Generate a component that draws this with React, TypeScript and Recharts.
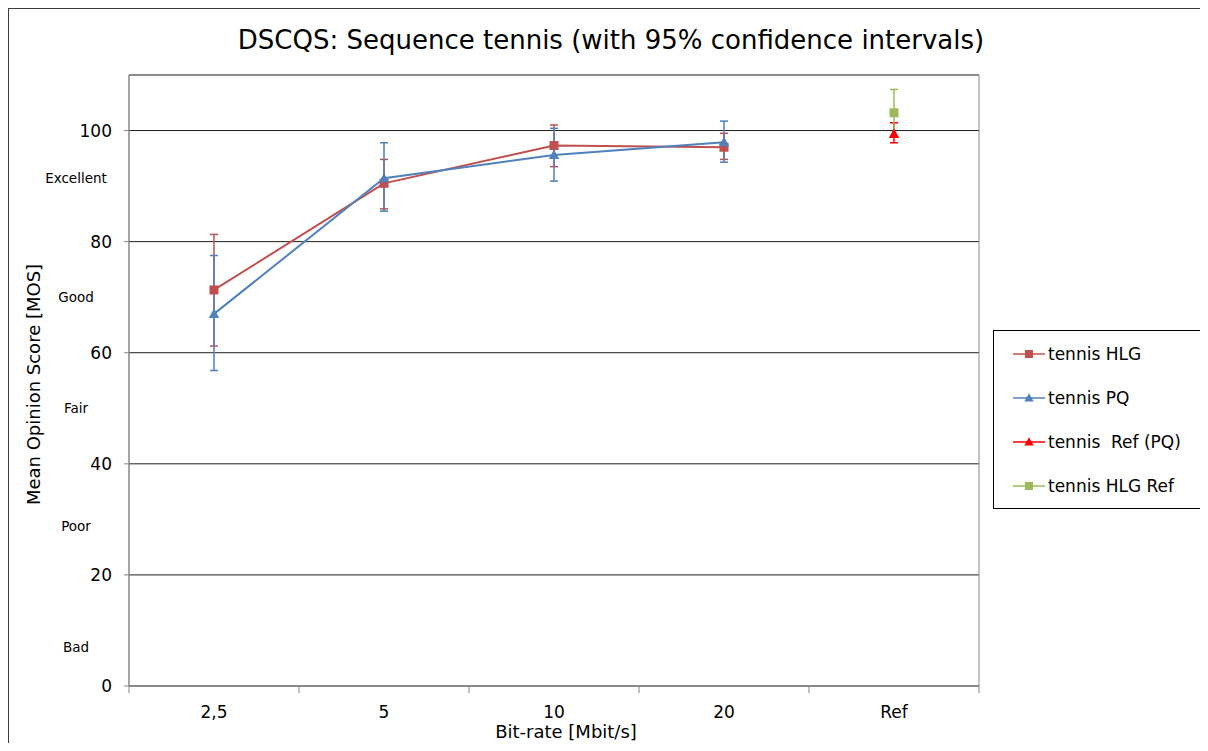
import React from 'react';
import {
  LineChart,
  Line,
  XAxis,
  YAxis,
  CartesianGrid,
  ErrorBar,
  ReferenceArea,
  ReferenceLine
} from 'recharts';

const FONT = '"DejaVu Sans", Verdana, sans-serif';
const AXIS = '#868686';
const GRID = '#1e1e1e';

// categories on the x axis
const categories = ['2,5', '5', '10', '20', 'Ref'];

// tennis HLG: mean and 95% CI bounds
const hlgMos = [71.3, 90.5, 97.3, 97.0, null];
const hlgLow = [61.2, 85.9, 93.5, 94.8, null];
const hlgHigh = [81.3, 94.8, 101.0, 99.5, null];

// tennis PQ
const pqMos = [67.0, 91.4, 95.6, 97.9, null];
const pqLow = [56.8, 85.5, 90.9, 94.3, null];
const pqHigh = [77.5, 97.8, 100.4, 101.7, null];

// tennis Ref (PQ)
const refPqMos = [null, null, null, null, 99.4];
const refPqLow = [null, null, null, null, 97.8];
const refPqHigh = [null, null, null, null, 101.4];

// tennis HLG Ref
const refHlgMos = [null, null, null, null, 103.2];
const refHlgLow = [null, null, null, null, 99.0];
const refHlgHigh = [null, null, null, null, 107.4];

const yTicks = [0, 20, 40, 60, 80, 100];
const qualityLabels = ['Excellent', 'Good', 'Fair', 'Poor', 'Bad'];
const qualityLevels = [91.4, 70.1, 50.1, 28.8, 7.0];

const series = [
  { key: 'hlg', name: 'tennis HLG', color: '#C0504D', marker: 'square' },
  { key: 'pq', name: 'tennis PQ', color: '#4F81BD', marker: 'triangle' },
  { key: 'refPq', name: 'tennis  Ref (PQ)', color: '#FF0000', marker: 'triangle' },
  { key: 'refHlg', name: 'tennis HLG Ref', color: '#9BBB59', marker: 'square' }
];

const err = (m: number | null, lo: number | null, hi: number | null) =>
  m == null || lo == null || hi == null ? null : [m - lo, hi - m];

const data = categories.map((c, i) => ({
  pos: i + 0.5,
  name: c,
  hlg: hlgMos[i],
  hlgErr: err(hlgMos[i], hlgLow[i], hlgHigh[i]),
  pq: pqMos[i],
  pqErr: err(pqMos[i], pqLow[i], pqHigh[i]),
  refPq: refPqMos[i],
  refPqErr: err(refPqMos[i], refPqLow[i], refPqHigh[i]),
  refHlg: refHlgMos[i],
  refHlgErr: err(refHlgMos[i], refHlgLow[i], refHlgHigh[i])
}));

// boundary ticks (integers) and label ticks (category centres)
const xTicks = categories.flatMap((_, i) => [i, i + 0.5]).concat(categories.length);

const Marker = ({ type, cx, cy, color, size }: any) => {
  if (type === 'square') {
    return <rect x={cx - size / 2} y={cy - size / 2} width={size} height={size} fill={color} />;
  }
  const h = size * 1.0;
  return (
    <polygon
      points={`${cx},${cy - h * 0.6} ${cx + size * 0.58},${cy + h * 0.45} ${cx - size * 0.58},${cy + h * 0.45}`}
      fill={color}
    />
  );
};

const makeDot = (type: string, color: string) => (p: any) => {
  const k = `dot-${p.index}`;
  if (!Number.isFinite(p.cx) || !Number.isFinite(p.cy)) return <g key={k} />;
  return (
    <g key={k}>
      <Marker type={type} cx={p.cx} cy={p.cy} color={color} size={9} />
    </g>
  );
};

const XTick = ({ x, y, payload }: any) => {
  const v = payload.value;
  if (Number.isInteger(v)) {
    return <line x1={x} x2={x} y1={y} y2={y + 7} stroke={AXIS} />;
  }
  return (
    <text x={x} y={y + 32} textAnchor="middle" fontSize={17} fontFamily={FONT} fill="#000">
      {categories[Math.floor(v)]}
    </text>
  );
};

const renderYTitle = ({ viewBox }: any) => (
  <text
    transform={`translate(${viewBox.x + 25}, ${viewBox.y + viewBox.height / 2 + 4}) rotate(-90)`}
    textAnchor="middle"
    dominantBaseline="central"
    fontSize={18}
    fontFamily={FONT}
    fill="#000"
  >
    Mean Opinion Score [MOS]
  </text>
);

const renderXTitle = ({ viewBox }: any) => (
  <text
    x={viewBox.x + viewBox.width / 2 + 12}
    y={viewBox.y + 52}
    textAnchor="middle"
    fontSize={18}
    fontFamily={FONT}
    fill="#000"
  >
    Bit-rate [Mbit/s]
  </text>
);

const qualityLabel = (text: string) => ({ viewBox }: any) => (
  <text
    x={viewBox.x - 53}
    y={viewBox.y}
    textAnchor="middle"
    dominantBaseline="central"
    fontSize={13.5}
    fontFamily={FONT}
    fill="#000"
  >
    {text}
  </text>
);

const LegendBox = () => (
  <div
    style={{
      position: 'absolute',
      left: 985,
      top: 322,
      width: 214,
      height: 179,
      border: '1px solid #000',
      boxSizing: 'border-box',
      background: '#fff',
      paddingTop: 1,
      fontFamily: FONT,
      fontSize: 17
    }}
  >
    {series.map((s) => (
      <div key={s.key} style={{ height: 44, display: 'flex', alignItems: 'center' }}>
        <svg width={36} height={14} style={{ marginLeft: 18, flex: 'none' }}>
          <line x1={1} x2={33} y1={7} y2={7} stroke={s.color} strokeWidth={1.5} />
          <Marker type={s.marker} cx={17} cy={7} color={s.color} size={8} />
        </svg>
        <span style={{ whiteSpace: 'pre', marginLeft: 0 }}>{s.name}</span>
      </div>
    ))}
  </div>
);

export default function App() {
  return (
    <div style={{ position: 'relative', width: 1200, height: 735, overflow: 'hidden', background: '#fff' }}>
      <div
        style={{
          position: 'absolute',
          left: 0,
          top: 0,
          width: 1400,
          height: 900,
          border: '1px solid #3c3c3c'
        }}
      />
      <div
        style={{
          position: 'absolute',
          left: 103,
          top: 16,
          width: 1000,
          textAlign: 'center',
          fontFamily: FONT,
          fontSize: 26,
          lineHeight: '32px',
          color: '#000'
        }}
      >
        DSCQS: Sequence tennis (with 95% confidence intervals)
      </div>
      <div style={{ position: 'absolute', left: 0, top: 0 }}>
        <LineChart width={1200} height={735} data={data} margin={{ top: 67, right: 229, bottom: 0, left: 0 }}>
          <CartesianGrid vertical={false} stroke={GRID} />
          <ReferenceArea x1={0} x2={5} y1={0} y2={110} fill="none" fillOpacity={0} stroke={AXIS} />
          <XAxis
            type="number"
            dataKey="pos"
            domain={[0, 5]}
            ticks={xTicks}
            interval={0}
            tickLine={false}
            tickSize={0}
            tickMargin={0}
            height={57}
            axisLine={{ stroke: AXIS }}
            tick={<XTick />}
            label={{ content: renderXTitle }}
          />
          <YAxis
            type="number"
            domain={[0, 110]}
            ticks={yTicks}
            interval={0}
            width={121}
            tickSize={5}
            tickMargin={12}
            axisLine={{ stroke: AXIS }}
            tickLine={{ stroke: AXIS }}
            tick={{ fontSize: 17, fill: '#000', fontFamily: FONT }}
            label={{ content: renderYTitle }}
          />
          {qualityLabels.map((q, i) => (
            <ReferenceLine key={q} y={qualityLevels[i]} stroke="none" strokeOpacity={0} label={{ content: qualityLabel(q) }} />
          ))}
          {series.map((s) => (
            <Line
              key={s.key}
              dataKey={s.key}
              name={s.name}
              type="linear"
              stroke={s.color}
              strokeWidth={2}
              dot={makeDot(s.marker, s.color)}
              activeDot={false}
              isAnimationActive={false}
            >
              <ErrorBar dataKey={`${s.key}Err`} width={4} strokeWidth={1.5} stroke={s.color} direction="y" />
            </Line>
          ))}
        </LineChart>
      </div>
      <LegendBox />
    </div>
  );
}
